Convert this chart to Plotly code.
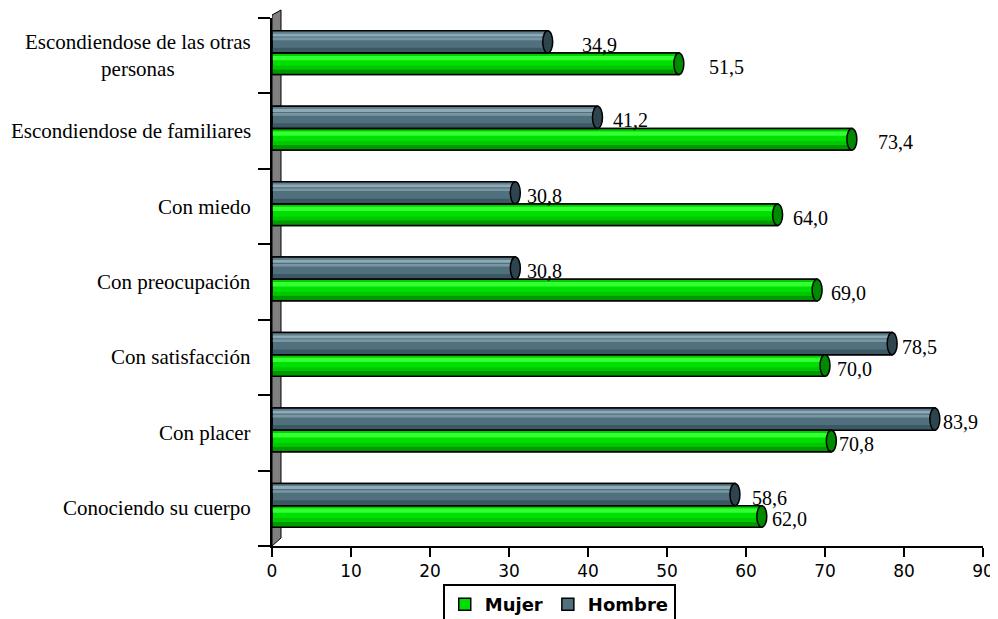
import plotly.graph_objects as go

categories = ["Conociendo su cuerpo", "Con placer", "Con satisfacción", "Con preocupación",
              "Con miedo", "Escondiendose de familiares", "Escondiendose de las otras<br>personas"]
mujer = [62.0, 70.8, 70.0, 69.0, 64.0, 73.4, 51.5]
hombre = [58.6, 83.9, 78.5, 30.8, 30.8, 41.2, 34.9]
x_ticks = [0, 10, 20, 30, 40, 50, 60, 70, 80, 90]

# style: label pixel shifts beyond bar end
mujer_shift = [8, 6, 10, 12, 13, 24, 28]
hombre_shift = [15, 6, 8, 10, 10, 14, 32]

SERIF = "Liberation Serif, Times New Roman, serif"
SANS = "DejaVu Sans, Verdana, sans-serif"

M_OFF, M_W = -0.25, 0.285
H_OFF, H_W = 0.035, 0.295

fig = go.Figure()
ys = categories

# main bars (legend)
fig.add_trace(go.Bar(name="Mujer", y=ys, x=mujer, orientation="h", offset=M_OFF, width=M_W,
                     marker=dict(color="#00e000", line=dict(color="black", width=1.5)), hoverinfo="x"))
fig.add_trace(go.Bar(name="Hombre", y=ys, x=hombre, orientation="h", offset=H_OFF, width=H_W,
                     marker=dict(color="#50707e", line=dict(color="black", width=1.5)), hoverinfo="x"))

# shading stripes for cylinder look
stripes = [
    (mujer, M_OFF + 0.0, 0.07, "#009a00"),
    (mujer, M_OFF + 0.07, 0.05, "#00c800"),
    (mujer, M_OFF + 0.19, 0.06, "#33ff33"),
    (mujer, M_OFF + 0.25, 0.035, "#00cc00"),
    (hombre, H_OFF + 0.0, 0.07, "#3d5865"),
    (hombre, H_OFF + 0.17, 0.035, "#7a96a3"),
    (hombre, H_OFF + 0.22, 0.04, "#8eaab6"),
    (hombre, H_OFF + 0.26, 0.035, "#5f7f8d"),
]
for vals, off, w, col in stripes:
    fig.add_trace(go.Bar(y=ys, x=vals, orientation="h", offset=off, width=w, showlegend=False,
                         marker=dict(color=col, line=dict(width=0)), hoverinfo="skip"))
# outlines
for vals, off, w in [(mujer, M_OFF, M_W), (hombre, H_OFF, H_W)]:
    fig.add_trace(go.Bar(y=ys, x=vals, orientation="h", offset=off, width=w, showlegend=False,
                         marker=dict(color="rgba(0,0,0,0)", line=dict(color="black", width=1.5)),
                         hoverinfo="skip"))

shapes = []
# left wall
shapes.append(dict(type="path", xref="x", yref="paper", xsizemode="pixel", ysizemode="pixel",
                   xanchor=0, yanchor=0, path="M0,0 L0,531 L9,536 L9,8 Z",
                   fillcolor="#808080", line=dict(color="black", width=1), layer="below"))

annotations = []
for i, cat in enumerate(categories):
    for vals, off, w, capcol, sh in [(mujer, M_OFF, M_W, "#008a00", mujer_shift),
                                      (hombre, H_OFF, H_W, "#2e4550", hombre_shift)]:
        v = vals[i]
        shapes.append(dict(type="circle", xref="x", yref="y", xsizemode="pixel", xanchor=v,
                           x0=-5, x1=5, y0=i + off, y1=i + off + w,
                           fillcolor=capcol, line=dict(color="black", width=1.5)))
        annotations.append(dict(x=v, y=i + off + w / 2, xref="x", yref="y", xanchor="left",
                                yanchor="middle", xshift=sh[i], yshift=-3, showarrow=False,
                                text=f"{v:.1f}".replace(".", ","),
                                font=dict(family=SERIF, size=20, color="black")))
    annotations.append(dict(x=0, y=i, xref="paper", yref="y", xanchor="right", yanchor="middle",
                            xshift=-19, showarrow=False, align="center", text=cat,
                            font=dict(family=SERIF, size=21, color="black")))

# page body has an 8px margin: compensate so the plot lands where the reference has it
fig.update_layout(
    width=990, height=611,
    margin=dict(l=264, r=15, t=10, b=73, autoexpand=False),
    paper_bgcolor="white", plot_bgcolor="white",
    barmode="overlay",
    separators=",.",
    shapes=shapes,
    annotations=annotations,
    xaxis=dict(range=[0, 90], tickvals=x_ticks, showgrid=False, zeroline=False, automargin=False,
               showline=True, linecolor="black", linewidth=1.5,
               ticks="outside", ticklen=9, tickwidth=1.5, tickcolor="black",
               tickfont=dict(family=SANS, size=17, color="black")),
    yaxis=dict(type="category", range=[-0.5, 6.5], showgrid=False, zeroline=False, automargin=False,
               showline=True, linecolor="black", linewidth=1.5,
               ticks="outside", tickson="boundaries", ticklen=12, tickwidth=1.5, tickcolor="black",
               showticklabels=False),
    legend=dict(orientation="h", x=0.404, xanchor="center", y=-0.072, yanchor="top",
                bordercolor="black", borderwidth=2, bgcolor="white",
                font=dict(family=SANS, size=18, color="black", weight="bold"),
                itemwidth=30, tracegroupgap=0),
    showlegend=True,
)

fig.write_html("out.html")
